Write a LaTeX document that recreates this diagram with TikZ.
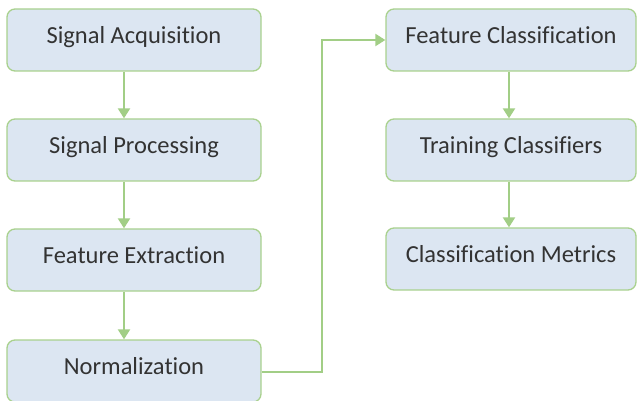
\documentclass[tikz,border=0pt]{standalone}
\usepackage{fontspec}
\setmainfont{Carlito}[Ligatures=NoCommon]
\usetikzlibrary{arrows.meta}
\definecolor{boxfill}{HTML}{DCE6F2}
\definecolor{boxline}{HTML}{A9D18E}
\definecolor{arrowc}{HTML}{A2CE86}
\definecolor{txt}{HTML}{333333}
\begin{document}
\begin{tikzpicture}[x=1pt,y=-1pt,
  stepbox/.style={draw=boxline,fill=boxfill,line width=1.3pt,rounded corners=8pt,
    minimum height=62pt,inner sep=0pt,text=txt,font=\fontsize{24.5}{28}\selectfont,
    text height=17pt,text depth=10pt},
  lbox/.style={stepbox,minimum width=254pt},
  rbox/.style={stepbox,minimum width=250pt},
  conn/.style={draw=arrowc,line width=2.2pt,-{Triangle[length=10pt,width=12pt]}}]
\useasboundingbox (0,0) rectangle (638,401);
\node[lbox] (sa) at (134,40) {Signal Acquisition};
\node[lbox] (sp) at (134,150) {Signal Processing};
\node[lbox] (fe) at (134,260) {Feature Extraction};
\node[lbox] (no) at (134,371) {Normalization};
\node[rbox] (fc) at (511,40) {Feature Classification};
\node[rbox] (tc) at (511,150) {Training Classifiers};
\node[rbox] (cm) at (511,259) {Classification Metrics};
\coordinate (xl) at (124,0);
\coordinate (xr) at (509,0);
\coordinate (xm) at (322,0);
\draw[conn] (sa.south -| xl) -- (sp.north -| xl);
\draw[conn] (sp.south -| xl) -- (fe.north -| xl);
\draw[conn] (fe.south -| xl) -- (no.north -| xl);
\draw[conn] (fc.south -| xr) -- (tc.north -| xr);
\draw[conn] (tc.south -| xr) -- (cm.north -| xr);
\draw[conn,rounded corners=0pt] ([yshift=-1pt]no.east) -| (xm |- fc.west) -- (fc.west);
\end{tikzpicture}
\end{document}
